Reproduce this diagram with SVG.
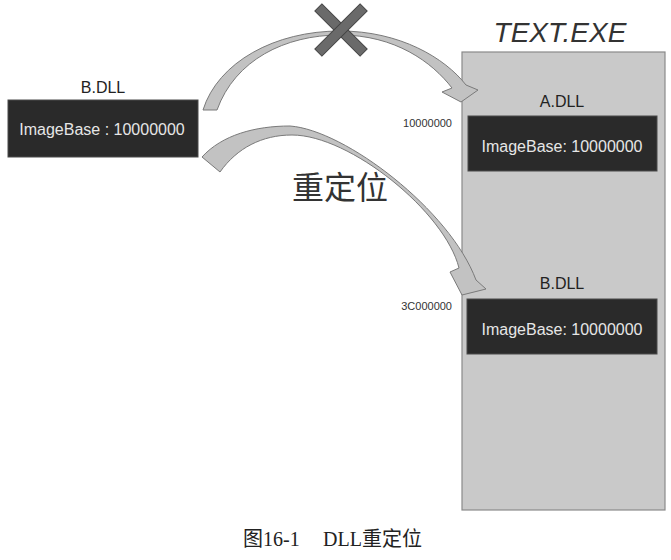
<svg xmlns="http://www.w3.org/2000/svg" width="671" height="560" viewBox="0 0 671 560">
<style>
.lbl{font-family:"Liberation Sans","Noto Sans CJK SC",sans-serif;font-size:16px;fill:#222;text-anchor:middle}
.ib{font-family:"Liberation Sans","Noto Sans CJK SC",sans-serif;font-size:16px;fill:#e6e6e6;text-anchor:middle}
.addr{font-family:"Liberation Sans",sans-serif;font-size:11px;fill:#333;text-anchor:end}
.dark{fill:#2a2a2a;stroke:#4a4a4a;stroke-width:1}
.arrow{fill:#c2c2c2;stroke:#7a7a7a;stroke-width:1;stroke-linejoin:round}
</style>
<rect width="671" height="560" fill="#ffffff"/>
<g id="text-exe">
<rect x="462" y="52" width="203" height="458" fill="#c9c9c9" stroke="#8a8a8a" stroke-width="1.2"/>
<text x="560" y="42" font-family="Liberation Sans, sans-serif" font-size="28" font-style="italic" fill="#333" text-anchor="middle">TEXT.EXE</text>
</g>
<g id="b-dll-left">
<text class="lbl" x="103" y="93">B.DLL</text>
<rect class="dark" x="8" y="100" width="190" height="57"/>
<text class="ib" x="102" y="135">ImageBase : 10000000</text>
</g>
<g id="a-dll">
<text class="lbl" x="562" y="107">A.DLL</text>
<rect class="dark" x="468" y="116" width="189" height="55"/>
<text class="ib" x="562" y="152">ImageBase: 10000000</text>
<text class="addr" x="452" y="127">10000000</text>
</g>
<g id="b-dll-right">
<text class="lbl" x="562" y="289">B.DLL</text>
<rect class="dark" x="467" y="299" width="190" height="55"/>
<text class="ib" x="562" y="335">ImageBase: 10000000</text>
<text class="addr" x="452" y="310">3C000000</text>
</g>
<g id="connectors">
<path class="arrow" d="M203,110 C218,62 275,31 340,31 C400,31 445,58 466,85 L478,90 L461,102 L442,92 L452,88 C432,62 395,35 340,35 C285,35 235,60 217,110 Z"/>
<path class="arrow" d="M202,157 C222,135 255,126 290,126 C345,130 450,210 476,280 L486,289 L462,295 L450,272 L459,268 C445,212 350,135 292,135 C262,135 237,148 220,172 Z"/>
<g id="cross" fill="#6a6a6a" stroke="#444" stroke-width="1">
<rect x="309" y="25" width="64" height="10" transform="rotate(45 341 30)"/>
<rect x="309" y="25" width="64" height="10" transform="rotate(-45 341 30)"/>
</g>
<text x="292" y="199" font-family="Noto Sans CJK SC, sans-serif" font-size="32" fill="#333">重定位</text>
</g>
<g id="caption" font-family="Liberation Serif, Noto Sans CJK SC, serif" font-size="20" fill="#222">
<text x="243" y="546">图16-1</text>
<text x="323" y="546">DLL重定位</text>
</g>
</svg>
